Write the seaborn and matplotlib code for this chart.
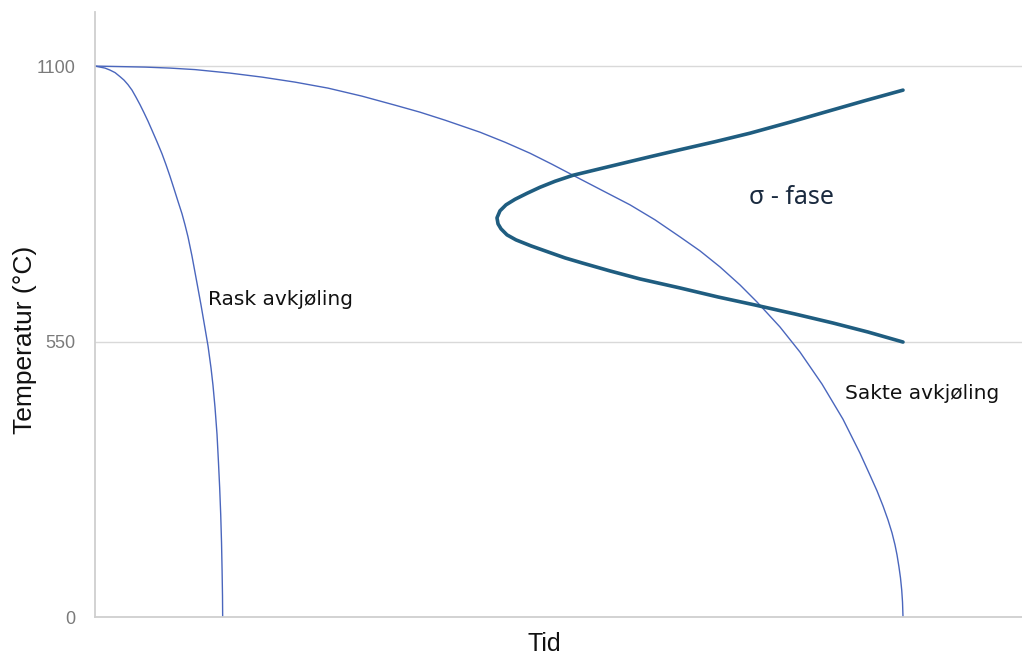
import numpy as np
import pandas as pd
import matplotlib
matplotlib.use("Agg")
import matplotlib.pyplot as plt
import seaborn as sns

# Cooling curves and sigma-phase nose (time in arbitrary units, temperature in °C)
fast_time = [0.0, 0.62, 1.24, 1.86, 2.48, 3.09, 3.59, 4.08, 4.58, 5.07, 5.57,
             6.06, 6.56, 7.05, 7.67, 8.29, 8.79, 9.28, 9.78, 10.27, 10.77,
             11.14, 11.51, 12.00, 12.62, 13.12, 13.61, 13.99, 14.36, 14.60,
             14.85, 15.10, 15.28, 15.43, 15.56, 15.66, 15.73, 15.78, 15.80]
fast_temp = [1100, 1098, 1096, 1092, 1087, 1079, 1072, 1063, 1052, 1038, 1023,
             1007, 990, 972, 949, 925, 903, 880, 855, 830, 805,
             783, 759, 721, 667, 623, 577, 541, 497, 463,
             419, 365, 309, 258, 204, 148, 92, 42, 0]

slow_time = [0.0, 3.09, 6.19, 9.28, 12.38, 16.71, 20.67, 24.75, 28.84, 33.04,
             37.13, 40.22, 43.32, 47.65, 50.74, 53.84, 56.56, 59.16, 62.50,
             66.21, 69.31, 72.40, 74.88, 77.35, 79.83, 81.93, 84.78, 87.25,
             89.98, 92.57, 94.68, 95.92, 96.78, 97.52, 98.14, 98.64, 99.01,
             99.26, 99.50, 99.69, 99.84, 99.94, 100.0]
slow_temp = [1100, 1099, 1098, 1096, 1093, 1086, 1078, 1068, 1056, 1040,
             1022, 1008, 992, 968, 948, 926, 904, 882, 854,
             823, 793, 759, 731, 699, 663, 629, 579, 529,
             465, 395, 327, 283, 252, 222, 194, 168, 144,
             124, 100, 78, 54, 30, 0]

sigma_time = [100.0, 95.30, 90.97, 86.01, 81.06, 76.73, 72.40, 68.69, 65.59,
              62.50, 59.16, 56.93, 55.07, 53.47, 51.98, 50.87, 50.12, 49.75,
              49.88, 50.25, 50.99, 52.10, 53.96, 56.06, 58.17, 60.27, 63.74,
              67.45, 72.40, 77.10, 81.68, 86.63, 91.34, 95.67, 100.0]
sigma_temp = [1052, 1031, 1011, 988, 966, 949, 933, 919, 907,
              895, 882, 870, 858, 846, 834, 823, 811, 797,
              785, 775, 763, 753, 741, 729, 717, 707, 691,
              675, 657, 639, 623, 605, 587, 569, 549]

y_ticks = [0, 550, 1100]

fast = pd.DataFrame({"tid": fast_time, "temp": fast_temp})
slow = pd.DataFrame({"tid": slow_time, "temp": slow_temp})
sigma = pd.DataFrame({"tid": sigma_time, "temp": sigma_temp})

sns.set_theme(style="white")
plt.rcParams["font.family"] = ["DejaVu Sans"]

fig = plt.figure(figsize=(10.22, 6.59), dpi=100)
ax = fig.add_axes([95 / 1022, 42 / 659, 1 - 95 / 1022, (617 - 12) / 659])

curve_blue = "#4a66bd"
sns.lineplot(data=fast, x="tid", y="temp", sort=False, estimator=None,
             color=curve_blue, lw=1.0, ax=ax)
sns.lineplot(data=slow, x="tid", y="temp", sort=False, estimator=None,
             color=curve_blue, lw=1.0, ax=ax)
sns.lineplot(data=sigma, x="tid", y="temp", sort=False, estimator=None,
             color="#1f5d80", lw=2.6, ax=ax, zorder=3)

ax.set_xlim(0, (1022 - 95) / 8.08)
ax.set_ylim(0, 1208)
ax.set_yticks(y_ticks)
ax.set_yticklabels([str(v) for v in y_ticks], fontsize=13,
                   color="#7a7a7a", family="Liberation Sans")
ax.set_xticks([])
ax.tick_params(axis="y", length=0, pad=14)

for v in y_ticks[1:]:
    ax.axhline(v, color="#d9d9d9", lw=1.0, zorder=0)

for side in ["top", "right"]:
    ax.spines[side].set_visible(False)
for side in ["left", "bottom"]:
    ax.spines[side].set_color("#cfcfcf")
    ax.spines[side].set_linewidth(1.3)

ax.set_xlabel("Tid", fontsize=18, family="Liberation Sans", color="#111111")
ax.set_ylabel("Temperatur (°C)", fontsize=19, family="Liberation Sans",
              color="#111111")
ax.xaxis.set_label_coords(0.485, -0.024, transform=ax.transAxes)
ax.yaxis.set_label_coords(-0.075, 0.458, transform=ax.transAxes)
ax.xaxis.label.set_va("top")
ax.yaxis.label.set_va("center")

ax.text(14.0, 633, "Rask avkjøling", fontsize=14.5, color="#111111",
        va="center", ha="left")
ax.text(92.8, 446, "Sakte avkjøling", fontsize=14.5,
        color="#111111", va="center", ha="left")
ax.text(80.9, 838, "σ - fase", fontsize=18, family="Noto Sans",
        color="#1a2a3f", va="center", ha="left")

fig.savefig("out.png", dpi=100)
